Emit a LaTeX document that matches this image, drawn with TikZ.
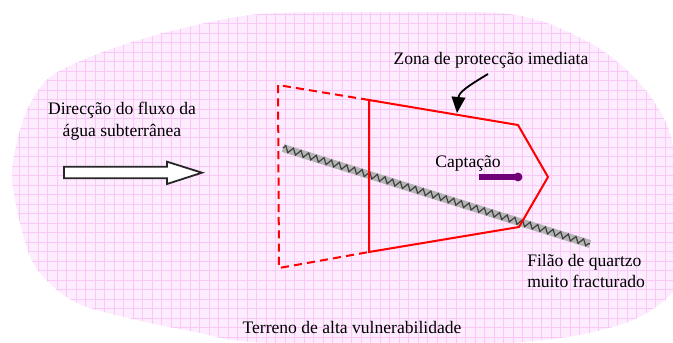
\documentclass[tikz,border=0pt]{standalone}
\usepackage{fontspec}
\setmainfont{Liberation Serif}
\usetikzlibrary{arrows.meta,decorations.pathmorphing}
\definecolor{terrainpink}{RGB}{253,236,253}
\definecolor{gridpink}{RGB}{249,200,249}
\definecolor{captpurple}{RGB}{112,0,120}
\definecolor{veingray}{RGB}{180,180,180}
\tikzset{
  zoneline/.style={red, line width=0.05cm},
  txtlabel/.style={font=\fontsize{12.5}{15.6}\selectfont, inner sep=0pt, align=center},
}
\begin{document}
\begin{tikzpicture}[x=0.025cm,y=-0.025cm]
            \useasboundingbox (0,0) rectangle (673,343);
            \clip (0,0) rectangle (673,343);

            % Terrain of high vulnerability (pink squared area)
            \begin{scope}
            \clip plot[smooth cycle] coordinates {(250,15) (333,12) (417,12) (500,13) (547,23) (597,47) (630,73) (653,100) (670,133) (680,190) (679,260) (672,293) (633,320) (567,337) (450,347) (300,345) (233,340) (200,333) (150,323) (87,307) (57,290) (33,263) (20,223) (12,180) (15,150) (27,110) (50,77) (100,53) (167,32)};
            \fill [terrainpink] (-10,-10) rectangle (690,360);%
            \draw [gridpink, line width=0.012cm, step=0.2375cm, yshift=-0.1125cm] (-10,360) grid (690,-10);%
            \end{scope}

            % Drawing quartz vein
            \coordinate (v1) at (283.000000,148.000000);
            \coordinate (v2) at (590.000000,244.000000);
            \draw [veingray, line width=0.2cm] (v1) -- (v2);%
            \draw [black!75, line width=0.03cm, decorate, decoration={zigzag, amplitude=0.075cm, segment length=0.2cm}] (v1) -- (v2);%

            % Marking points of the protection zone
            \coordinate (d1) at (278.000000,85.000000);
            \coordinate (p1) at (369.000000,100.000000);
            \coordinate (p2) at (518.000000,125.000000);
            \coordinate (p3) at (548.000000,177.000000);
            \coordinate (p4) at (519.000000,227.000000);
            \coordinate (p5) at (369.000000,252.000000);
            \coordinate (d2) at (279.000000,268.000000);

            % Drawing zone boundary
            \draw [zoneline, dash pattern=on 0.2cm off 0.13cm] (p1) -- (d1) -- (d2) -- (p5);%
            \draw [zoneline, line join=miter] (p1) -- (p2) -- (p3) -- (p4) -- (p5) -- cycle;%

            % Drawing flow arrow
            \draw [black!85, line width=0.045cm, fill=white, line join=miter] (64,166.7) -- (167,166.7) -- (167,161.7) -- (202,172.7) -- (167,184) -- (167,178.3) -- (64,178.3) -- cycle;%

            % Marking well
            \coordinate (pipe) at (479.000000,177.000000);
            \coordinate (well) at (518.000000,177.000000);
            \draw [captpurple, line width=0.14cm] (pipe) -- (well);%
            \fill [captpurple] (well) circle (0.11cm);%

            % Labels
            {
            \node [txtlabel] (flow) at (122,121) {Direcção do fluxo da\\água subterrânea};%
            \node [txtlabel] (zona) at (491,60) {Zona de protecção imediata};%
            \node [txtlabel] (captacao) at (468,163) {Captação};%
            \node [txtlabel, align=left, anchor=west] (filao) at (527,271) {Filão de quartzo\\muito fracturado};%
            \node [txtlabel] (terreno) at (352,327) {Terreno de alta vulnerabilidade};%
            }

            % Pointing to the zone
            \coordinate (zonafoot) at (488.000000,74.000000);
            \coordinate (zonatip) at (457.000000,113.000000);
            \draw [line width=0.045cm, -{Triangle[length=0.4cm,width=0.34cm]}] (zonafoot) .. controls (468,86) and (459,92) .. (zonatip);%
        \end{tikzpicture}
\end{document}
